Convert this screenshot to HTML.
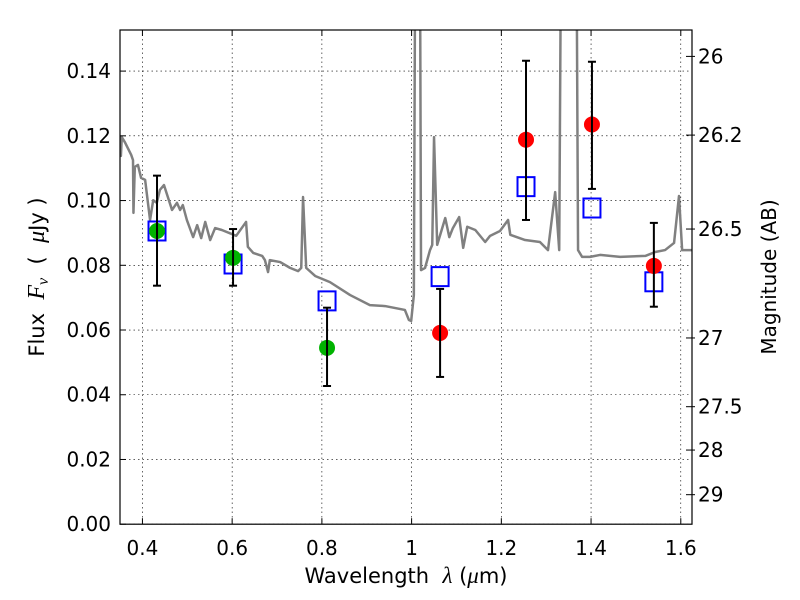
<!DOCTYPE html>
<html><head><meta charset="utf-8"><style>
body{margin:0;background:#fff}
svg{display:block;font-family:"DejaVu Sans","Liberation Sans",sans-serif}
text.pre{white-space:pre}
</style></head><body>
<svg id="chart" width="800" height="600" viewBox="0 0 800 600">
<rect width="800" height="600" fill="#fff"/>
<defs><clipPath id="clip"><rect x="120" y="30" width="572" height="494.2"/></clipPath></defs>
<g id="grid"></g>
<g id="spec" clip-path="url(#clip)"></g>
<g id="marks" clip-path="url(#clip)"></g>
<rect x="120" y="30" width="572" height="494.2" fill="none" stroke="#000" stroke-width="1.2"/>
<g id="axes"></g>
<text class="pre" x="406" y="583" font-size="21" text-anchor="middle">Wavelength  <tspan font-family="Liberation Serif" font-style="italic" font-size="23">λ</tspan> (<tspan font-family="Liberation Serif" font-style="italic" font-size="23">μ</tspan>m)</text>
<text class="pre" transform="translate(44,277) rotate(-90)" font-size="21" text-anchor="middle">Flux  <tspan font-family="Liberation Serif" font-style="italic" font-size="24">F<tspan font-size="16" dy="4">ν</tspan></tspan><tspan dy="-4">  (  </tspan><tspan font-family="Liberation Serif" font-style="italic" font-size="24">μ</tspan>Jy )</text>
<text transform="translate(776,277) rotate(-90)" font-size="20" text-anchor="middle">Magnitude (AB)</text>
</svg>
<script>
const xTicks=[0.4,0.6,0.8,1.0,1.2,1.4,1.6];
const xTickLabels=["0.4","0.6","0.8","1","1.2","1.4","1.6"];
const yTicks=[0,0.02,0.04,0.06,0.08,0.10,0.12,0.14];
const yTickLabels=["0.00","0.02","0.04","0.06","0.08","0.10","0.12","0.14"];
const magTicks=[26,26.2,26.5,27,27.5,28,29];
const magTickLabels=["26","26.2","26.5","27","27.5","28","29"];
const specLam=[0.350,0.352,0.354,0.361,0.375,0.379,0.380,0.383,0.390,0.397,0.406,0.417,0.424,0.432,0.439,0.448,0.455,0.466,0.477,0.484,0.490,0.499,0.513,0.522,0.531,0.540,0.551,0.562,0.577,0.609,0.631,0.635,0.647,0.667,0.673,0.680,0.684,0.707,0.729,0.747,0.754,0.758,0.765,0.785,0.818,0.863,0.907,0.941,0.985,0.994,0.999,1.005,1.010,1.017,1.021,1.030,1.041,1.046,1.050,1.057,1.075,1.084,1.092,1.106,1.115,1.124,1.142,1.164,1.175,1.197,1.215,1.220,1.253,1.286,1.304,1.320,1.329,1.336,1.365,1.371,1.380,1.398,1.420,1.465,1.521,1.543,1.565,1.585,1.596,1.603,1.625];
const specFlux=[0.1199,0.1138,0.1196,0.1180,0.1141,0.1125,0.0962,0.1104,0.1110,0.1070,0.1064,0.0940,0.1001,0.0993,0.1033,0.1048,0.1018,0.0971,0.0993,0.0971,0.0986,0.0940,0.0887,0.0924,0.0884,0.0934,0.0878,0.0915,0.0909,0.0891,0.0934,0.0857,0.0838,0.0829,0.0816,0.0779,0.0816,0.0810,0.0792,0.0782,0.0792,0.1011,0.0792,0.0767,0.0748,0.0708,0.0677,0.0674,0.0662,0.0631,0.0628,0.0708,0.25,0.25,0.0785,0.0792,0.0847,0.0863,0.1196,0.0863,0.0946,0.0887,0.0915,0.0949,0.0854,0.0919,0.0909,0.0872,0.0891,0.0906,0.0940,0.0894,0.0878,0.0872,0.0847,0.1026,0.0847,0.25,0.25,0.0847,0.0826,0.0826,0.0832,0.0826,0.0829,0.0841,0.0847,0.0869,0.1014,0.0847,0.0847];
const greenLam=[0.4325,0.602,0.8115];
const greenFlux=[0.0906,0.0823,0.0545];
const greenErrLo=[0.0737,0.0737,0.0427];
const greenErrHi=[0.1077,0.0912,0.0669];
const redLam=[1.0635,1.255,1.402,1.54];
const redFlux=[0.0591,0.1188,0.1235,0.0798];
const redErrLo=[0.0455,0.094,0.1036,0.0672];
const redErrHi=[0.0727,0.1432,0.1429,0.0931];
const modelLam=[0.4325,0.602,0.8115,1.0635,1.255,1.402,1.54];
const modelFlux=[0.0906,0.0804,0.069,0.0765,0.1043,0.0977,0.0749];

const X0=120,X1=692,Y0=524.2,Y1=30,LMIN=0.35,LMAX=1.625,FMAX=0.1527;
const sx=l=>X0+(l-LMIN)/(LMAX-LMIN)*(X1-X0);
const sy=f=>Y0-f/FMAX*(Y0-Y1);
const magToFlux=m=>Math.pow(10,(23.9-m)/2.5);
const NS="http://www.w3.org/2000/svg";
function mk(tag,attrs,parent){const e=document.createElementNS(NS,tag);for(const k in attrs)e.setAttribute(k,attrs[k]);parent.appendChild(e);return e;}
const grid=document.getElementById('grid'),axes=document.getElementById('axes'),spec=document.getElementById('spec'),marks=document.getElementById('marks');
xTicks.forEach((t,i)=>{const x=sx(t);
 let g=mk('line',{x1:x,x2:x,y1:Y1,y2:Y0,stroke:'#000','stroke-width':0.6,'stroke-dasharray':'1.5,3'},grid);
 
 mk('line',{x1:x,x2:x,y1:Y0,y2:Y0-6,stroke:'#000'},axes);mk('line',{x1:x,x2:x,y1:Y1,y2:Y1+6,stroke:'#000'},axes);
 let tx=mk('text',{x:x,y:555,'font-size':20,'text-anchor':'middle'},axes);tx.textContent=xTickLabels[i];
 });
yTicks.forEach((t,i)=>{const y=sy(t);
 let g=mk('line',{x1:X0,x2:X1,y1:y,y2:y,stroke:'#000','stroke-width':0.6,'stroke-dasharray':'1.5,3'},grid);
 
 mk('line',{x1:X0,x2:X0+6,y1:y,y2:y,stroke:'#000'},axes);
 let tx=mk('text',{x:111,y:y+7,'font-size':20,'text-anchor':'end'},axes);tx.textContent=yTickLabels[i];
 });
magTicks.forEach((m,i)=>{const y=sy(magToFlux(m));
 mk('line',{x1:X1-6,x2:X1+3,y1:y,y2:y,stroke:'#000'},axes);
 let tx=mk('text',{x:698,y:y+7,'font-size':20},axes);tx.textContent=magTickLabels[i];
 });
const sp=mk('polyline',{points:specLam.map((l,i)=>sx(l)+','+sy(specFlux[i])).join(' '),fill:'none',stroke:'#808080','stroke-width':2.5,'stroke-linejoin':'round'},spec);

function errbar(l,lo,hi){const x=sx(l);
 const g=mk('g',{stroke:'#000','stroke-width':2},marks);
 
 mk('line',{x1:x,x2:x,y1:sy(lo),y2:sy(hi)},g);mk('line',{x1:x-4,x2:x+4,y1:sy(lo),y2:sy(lo)},g);mk('line',{x1:x-4,x2:x+4,y1:sy(hi),y2:sy(hi)},g);}
modelLam.forEach((l,i)=>{const r=mk('rect',{x:sx(l)-8.5,y:sy(modelFlux[i])-9.5,width:17,height:19,fill:'none',stroke:'#0000ff','stroke-width':2},marks);
 });
greenLam.forEach((l,i)=>{const c=mk('circle',{cx:sx(l),cy:sy(greenFlux[i]),r:8,fill:'#00b300'},marks);
 
 errbar(l,greenErrLo[i],greenErrHi[i]);});
redLam.forEach((l,i)=>{const c=mk('circle',{cx:sx(l),cy:sy(redFlux[i]),r:8,fill:'#ff0000'},marks);
 
 errbar(l,redErrLo[i],redErrHi[i]);});
</script>
</body></html>
